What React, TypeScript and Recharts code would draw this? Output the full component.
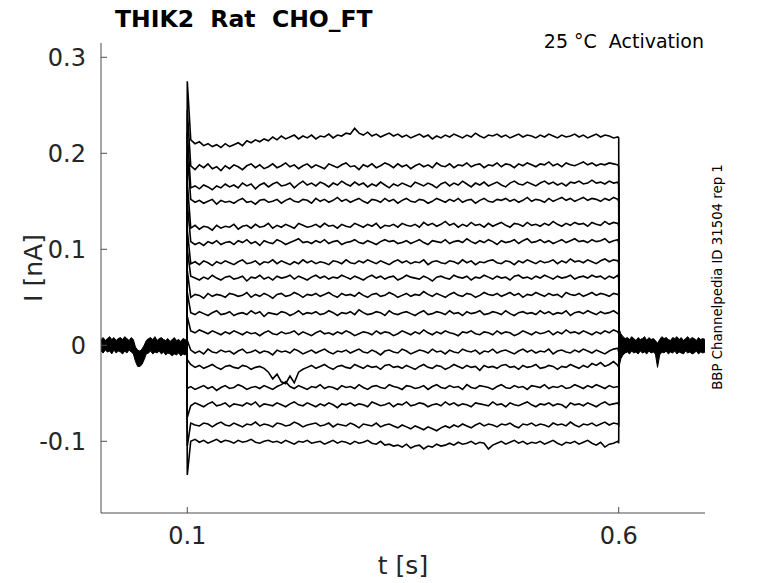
import React from 'react';
import { ComposedChart, Line, Area, XAxis, YAxis } from 'recharts';

// Steady-state current level of each voltage step (nA)
const levels = [0.216, 0.186, 0.167, 0.150, 0.124, 0.107, 0.086, 0.070, 0.052, 0.033, 0.012, -0.007, -0.023, -0.044, -0.062, -0.083, -0.102];
// Capacitive transient extreme at step onset (nA)
const peaks = [0.275, 0.245, 0.222, 0.2, 0.17, 0.148, 0.12, 0.1, 0.078, 0.055, 0.03, 0.005, -0.015, -0.045, -0.075, -0.105, -0.135];

// Recording noise / drift during the step, in pA (1e-3 nA), read per trace
const noise: number[][] = [
  [-2,-6,-4,-8,-6,-9,-7,-10,-6,-9, -7,-5,-8,-3,-5,-2,-4,-1,-3,1, -2,2,-1,1,3,-1,2,0,3,-1, 2,1,4,0,3,2,5,4,10,5, 3,6,2,4,1,3,5,2,4,1, 3,0,2,4,1,3,-1,2,0,3, 1,4,2,0,3,1,5,2,0,3, 2,4,1,3,0,2,4,1,3,2, 0,3,1,4,2,0,3,1,2,4, 1,3,0,2,4,1,3,2,0,1],
  [1,-3,2,-1,3,-2,0,-4,1,-2, 2,0,-3,1,3,-1,2,-2,0,3, -1,1,4,0,2,-2,1,3,-1,2, 0,-2,3,1,-1,2,4,0,1,-3, 2,0,3,-1,1,4,2,-1,3,0, 2,-2,1,3,0,2,-1,4,1,0, 3,-1,2,1,4,0,2,3,-1,2, 1,4,0,3,2,-1,3,1,4,2, 0,3,2,5,1,3,0,4,2,1, 3,5,2,4,1,3,2,4,3,2],
  [-3,-1,-4,0,-2,-5,-1,-3,1,-2, 0,-3,2,-1,1,-4,0,2,-2,1, 3,-1,0,2,-3,1,4,0,2,-1, 3,1,-2,2,0,4,1,-1,3,0, 2,-2,1,-1,3,0,-3,1,-1,2, 0,-2,3,1,-1,2,0,-3,1,3, -1,2,0,4,1,-2,2,0,3,-1, 1,3,0,-2,2,4,1,0,3,1, -1,2,4,1,3,0,2,-1,3,2, 4,1,2,5,2,3,1,4,2,3],
  [2,-1,1,-2,0,2,-3,1,-1,0, -2,1,3,-1,0,-3,1,2,-1,0, 2,-2,1,3,0,-1,2,1,-2,3, 0,2,-1,1,4,0,2,-1,1,3, 0,-2,2,1,-1,3,0,2,-2,1, 3,0,-1,2,1,-2,0,3,1,-1, 2,0,3,-1,1,2,-2,1,3,0, -1,2,1,3,0,2,-1,1,4,0, 2,1,-1,3,0,2,4,1,3,0, 2,4,1,3,2,0,3,1,4,2],
  [-2,1,-3,0,-1,-4,1,-2,0,-1, 2,-3,0,1,-2,2,-1,0,3,-2, 1,-1,2,0,-2,3,1,-1,0,2, -1,3,0,1,-2,2,0,-1,3,1, -1,2,0,3,-2,1,0,2,-1,3, 1,0,2,-1,4,1,3,0,2,5, 1,3,-1,2,0,4,1,2,-1,3, 0,2,4,1,-1,3,2,0,4,1, 2,0,3,1,5,2,0,3,1,4, 2,3,0,4,2,1,5,2,4,3],
  [1,-2,0,-3,1,-1,2,-2,0,1, -2,2,0,3,-1,1,-3,2,0,-1, 3,1,-2,0,2,4,0,1,-1,2, 0,3,-1,1,2,-2,0,1,3,0, -1,2,0,-2,1,3,1,2,-1,0, 2,-1,1,3,0,-2,2,1,0,3, -1,1,2,0,4,1,-1,2,0,3, 1,-2,2,0,1,3,-1,2,4,0, 1,3,0,2,-1,1,3,0,2,4, 1,2,0,3,1,2,4,0,2,3],
  [-1,1,-2,2,0,-3,1,-1,2,0, -2,1,3,-1,0,2,-2,1,0,3, -1,2,0,-2,1,-1,3,0,2,-1, 1,0,-2,2,1,-1,3,0,-1,2, 0,3,1,-1,2,0,-2,1,3,0, 2,-1,1,0,3,-2,1,2,0,-1, 2,1,-1,3,0,2,-2,1,0,2, 3,0,-1,2,1,-2,2,0,3,1, -1,2,0,1,3,-1,2,0,4,1, 2,0,3,1,-1,2,4,1,3,2],
  [2,0,-2,1,-1,3,0,-2,1,2, -1,0,2,-3,1,0,3,-1,1,-2, 2,0,1,3,-1,2,0,-2,1,3, 0,2,-1,1,0,3,1,-1,2,0, -2,1,3,0,2,-1,1,2,-2,0, 3,1,0,-1,2,0,-3,1,2,0, -1,3,1,0,2,-2,1,0,3,1, -1,2,0,1,-2,2,3,0,1,-1, 2,0,3,1,-1,2,0,1,3,-1, 1,2,0,3,1,2,-1,2,0,3],
  [-2,1,0,-3,2,-1,1,0,-2,2, 1,-1,0,3,-2,1,-1,2,0,-3, 1,2,-1,0,3,1,-2,1,0,2, -1,1,3,0,-2,2,0,1,-1,3, 0,-2,1,2,-1,0,3,1,-2,0, 2,-1,1,0,4,1,-1,2,0,-2, 1,3,0,-1,2,1,-2,0,3,1, 0,2,-1,1,3,0,2,-2,1,0, 3,1,-1,2,0,1,-2,3,1,0, 2,-1,1,3,0,2,1,-1,2,1],
  [1,-1,2,0,-2,1,3,-1,0,2, -2,0,1,-1,3,0,2,-3,1,0, -1,2,1,-2,0,3,-1,1,0,2, -1,0,3,1,-2,1,0,2,-1,4, 1,-1,0,2,1,-2,3,0,-1,1, 2,0,-2,1,3,-1,0,2,1,-1, 3,0,1,-2,2,0,1,3,-1,0, 2,1,-1,3,0,-2,1,2,0,1, -1,3,0,2,-1,1,0,3,-2,1, 2,0,3,1,-1,2,0,1,3,0],
  [3,1,4,2,0,3,1,-1,2,0, 3,1,-1,2,0,1,-2,1,3,0, -1,2,0,1,3,-1,2,0,-2,1, 3,0,1,-1,2,0,3,1,-2,0, 2,1,-1,3,0,2,1,-2,0,3, 1,-1,2,0,4,1,-1,2,0,3, 1,0,-2,2,1,3,0,-1,2,1, -1,3,0,2,1,-2,0,3,1,-1, 2,0,1,3,-1,2,0,4,1,2, 0,3,1,-1,2,0,3,1,4,2],
  [2,-1,1,-2,3,0,-1,2,0,1, -2,1,3,-1,0,2,-1,1,0,-3, 2,0,1,-1,3,1,-2,0,2,-1, 1,3,0,-2,1,0,2,-1,1,3, 0,-1,2,0,-3,1,2,0,-1,3, 1,-2,0,2,1,-1,3,0,1,-2, 2,0,-1,3,1,0,2,-2,1,0, 3,-1,1,2,0,-2,1,3,0,2, -1,1,0,3,-2,1,2,0,-1,2, 0,3,1,-1,2,0,-2,1,3,4],
  [3,0,2,-1,1,3,0,-2,1,2, 0,-1,2,1,-2,0,1,-1,-5,-12, -7,-15,-17,-9,-16,-5,-2,0,2,-1, 1,3,0,-2,1,2,0,-1,3,1, -1,2,0,1,-2,2,3,0,1,-1, 2,0,-2,1,3,0,-1,2,1,-2, 0,3,1,-1,2,0,1,-3,2,0, 1,-1,2,3,0,1,-2,2,0,1, 3,-1,0,2,1,-2,1,0,3,1, -1,2,0,4,2,5,1,3,6,2],
  [1,-2,0,2,-1,1,-3,0,2,-1, 0,3,1,-2,0,1,-1,2,0,-2, 1,3,6,1,-1,2,0,-2,1,0, 3,-1,1,0,-2,2,0,1,-1,3, 0,-2,1,2,0,-1,3,1,0,-2, 2,1,-1,0,2,-2,1,3,0,-1, 2,0,1,-2,3,0,-1,2,1,0, -2,1,3,0,-1,2,0,1,-2,2, 1,0,3,-1,1,0,2,-1,0,3, 1,-1,2,0,3,1,-1,2,0,1],
  [-1,2,0,-2,1,3,-1,0,2,-2, 1,0,-1,2,0,3,-2,1,0,-1, 2,0,-2,1,3,0,-1,2,0,-2, 1,-1,2,0,-3,1,0,2,-1,1, 0,-2,3,1,-1,0,2,-2,1,0, 3,-1,0,2,1,-2,0,1,-1,3, 0,2,-1,1,0,-2,2,1,0,-1, 3,0,1,-2,2,0,-1,1,3,0, -2,1,0,2,-1,1,0,-3,2,0, 1,-1,2,0,-2,1,3,0,1,2],
  [2,0,-1,2,1,-2,1,3,0,-1, 2,0,-2,1,0,3,-1,1,0,-2, 2,1,-1,0,3,1,-2,0,1,2, -1,0,2,-2,1,0,-1,2,0,-3, 1,0,-1,2,-2,0,1,-1,-3,0, -2,-4,-1,-3,-5,-2,-4,-6,-3,-1, -3,0,-2,1,-1,-3,0,2,-1,1, 0,-2,1,0,2,-1,-3,1,0,2, -1,1,0,-2,2,0,1,-1,3,0, -2,1,0,2,-1,1,3,0,2,1],
  [2,4,1,3,0,2,4,1,3,2, 0,3,1,2,4,1,0,2,3,1, 2,0,3,1,-1,2,1,3,0,1, 2,-1,1,3,0,2,1,-1,2,0, 1,3,0,-1,2,-2,-1,-3,-2,-4, -1,-5,-3,-2,-6,-3,-4,-1,-3,-2, 0,-2,1,-1,0,2,-1,1,0,-6, -2,0,2,-1,1,3,0,2,-1,1, 0,2,-1,1,3,0,-2,1,0,2, -1,1,3,0,-2,1,-4,-1,0,2],
];

// Holding-current band (all sweeps overlapping) before and after the step, in pA
const preHi = [6,8,5,7,9,6,8,5,7,8, 6,9,7,5,8,6,-2,-5,-6,-4, 0,5,7,8,6,9,5,7,8,6, 5,7,4,6,8,5,6,4,7,6, 5];
const preLo = [-6,-8,-5,-7,-6,-9,-5,-8,-6,-7, -9,-6,-8,-5,-7,-9,-17,-22,-22,-20, -15,-9,-8,-6,-9,-7,-8,-6,-9,-7, -10,-8,-9,-11,-9,-10,-8,-11,-9,-10, -8];
const postHi = [18,12,9,7,8,6,9,7,5,8, 6,7,9,5,8,6,7,5,2,6, 9,7,8,6,5,8,7,9,6,8, 5,7,9,6,8,7,5,8,6,7, 6];
const postLo = [-24,-14,-10,-8,-7,-9,-6,-8,-7,-9, -6,-8,-7,-9,-6,-8,-7,-9,-23,-10, -7,-8,-6,-9,-7,-8,-6,-9,-7,-8, -9,-6,-8,-7,-9,-8,-6,-9,-7,-8, -7];

const xTicks = [0.1, 0.6];
const yTicks = [-0.1, 0, 0.1, 0.2, 0.3];

const PA = 0.001;
const STEP_ON = 0.1;
const STEP_OFF = 0.6;

// sampling grids
const stepTimes = Array.from({ length: 100 }, (_, i) => Number((0.104 + i * 0.005).toFixed(4)));
const preTimes = Array.from({ length: 41 }, (_, i) => Number((i * 0.0025).toFixed(4)));
const postTimes = Array.from({ length: 41 }, (_, i) => Number((STEP_OFF + i * 0.0025).toFixed(4)));

const traces = levels.map((lv, k) => [
  { t: STEP_ON - 0.0005, v: 0 },
  { t: STEP_ON, v: peaks[k] },
  ...stepTimes.map((t, i) => ({ t, v: lv + (noise[k][i] ?? 0) * PA })),
  { t: STEP_OFF, v: lv },
  { t: STEP_OFF + 0.0004, v: 0 },
]);

const preBand = preTimes.map((t, i) => ({ t, r: [preLo[i] * PA, preHi[i] * PA] }));
const postBand = postTimes.map((t, i) => ({ t, r: [postLo[i] * PA, postHi[i] * PA] }));

const FONT = 'DejaVu Sans';
const TXT = '#262626';
const AXIS = '#4d4d4d';

export default function App() {
  return (
    <div style={{ position: 'absolute', left: 0, top: 0, width: 778, height: 583, background: '#fff' }}>
      <ComposedChart
        width={778}
        height={583}
        margin={{ top: 43, right: 73, bottom: 0, left: 0 }}
        style={{ fontFamily: FONT }}
      >
        <XAxis
          type="number"
          dataKey="t"
          domain={[0, 0.7]}
          allowDataOverflow
          ticks={xTicks}
          height={70}
          tickSize={-6}
          tickMargin={20}
          stroke={AXIS}
          axisLine={{ stroke: AXIS }}
          tickLine={{ stroke: AXIS }}
          tick={{ fill: TXT, fontSize: 24, fontFamily: FONT }}
        />
        <YAxis
          type="number"
          domain={[-0.1747, 0.3149]}
          allowDataOverflow
          ticks={yTicks}
          width={101}
          tickSize={-6}
          tickMargin={21}
          stroke={AXIS}
          axisLine={{ stroke: AXIS }}
          tickLine={{ stroke: AXIS }}
          tick={{ fill: TXT, fontSize: 24, fontFamily: FONT }}
        />
        <Area
          data={preBand}
          dataKey="r"
          type="linear"
          stroke="#000"
          strokeWidth={1}
          fill="#000"
          fillOpacity={1}
          dot={false}
          activeDot={false}
          isAnimationActive={false}
        />
        <Area
          data={postBand}
          dataKey="r"
          type="linear"
          stroke="#000"
          strokeWidth={1}
          fill="#000"
          fillOpacity={1}
          dot={false}
          activeDot={false}
          isAnimationActive={false}
        />
        {traces.map((d, k) => (
          <Line
            key={k}
            data={d}
            dataKey="v"
            type="linear"
            stroke="#000"
            strokeWidth={1.6}
            strokeLinejoin="miter"
            dot={false}
            activeDot={false}
            isAnimationActive={false}
          />
        ))}
      </ComposedChart>
      <svg
        width={778}
        height={583}
        style={{ position: 'absolute', left: 0, top: 0, pointerEvents: 'none' }}
      >
        <text x={115} y={27} fontFamily={FONT} fontWeight="bold" fontSize={23.5} fill="#000">
          {'THIK2\u00a0\u00a0Rat\u00a0\u00a0CHO_FT'}
        </text>
        <text x={704} y={48} fontFamily={FONT} fontSize={19} fill="#000" textAnchor="end">
          {'25 \u00b0C\u00a0\u00a0Activation'}
        </text>
        <text
          x={722}
          y={277}
          fontFamily={FONT}
          fontSize={13.3}
          fill="#000"
          textAnchor="middle"
          transform="rotate(-90 722 277)"
        >
          BBP Channelpedia ID 31504 rep 1
        </text>
        <text
          x={42}
          y={268}
          fontFamily={FONT}
          fontSize={25}
          fill={TXT}
          textAnchor="middle"
          transform="rotate(-90 42 268)"
        >
          I [nA]
        </text>
        <text x={403} y={574} fontFamily={FONT} fontSize={25} fill={TXT} textAnchor="middle">
          t [s]
        </text>
      </svg>
    </div>
  );
}
